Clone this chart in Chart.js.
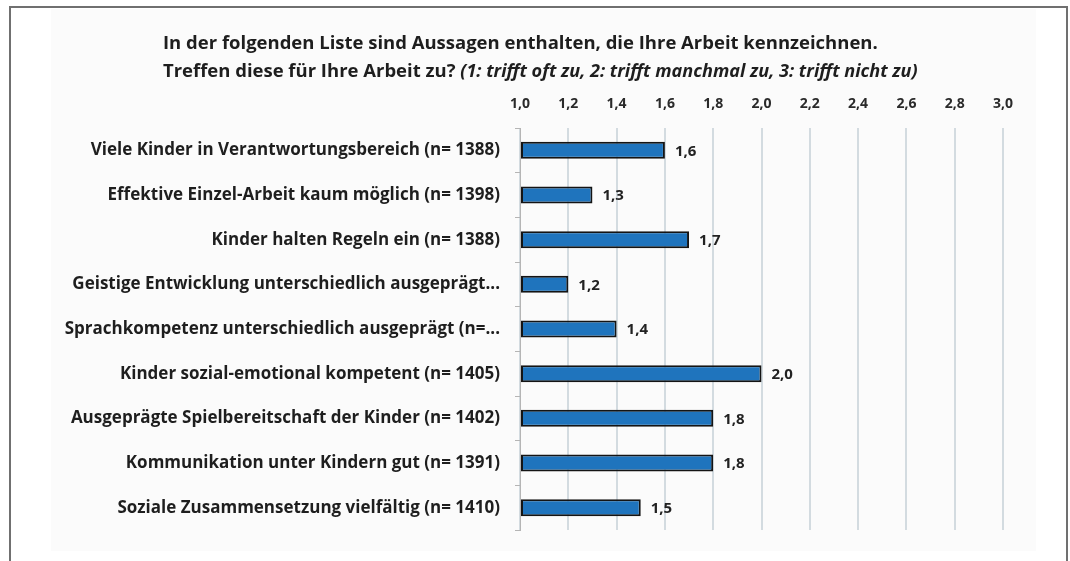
<!DOCTYPE html>
<html>
<head>
<meta charset="utf-8">
<script src="https://cdn.jsdelivr.net/npm/chart.js@4/dist/chart.umd.min.js"></script>
<style>
  html, body { margin: 0; padding: 0; background: #ffffff; }
  #wrap { position: relative; width: 1070px; height: 561px; }
</style>
</head>
<body>
<div id="wrap"><canvas id="c" width="1070" height="561"></canvas></div>
<script>
const categories = [
  "Viele Kinder in Verantwortungsbereich (n= 1388)",
  "Effektive Einzel-Arbeit kaum möglich (n= 1398)",
  "Kinder halten Regeln ein (n= 1388)",
  "Geistige Entwicklung unterschiedlich ausgeprägt...",
  "Sprachkompetenz unterschiedlich ausgeprägt (n=...",
  "Kinder sozial-emotional kompetent (n= 1405)",
  "Ausgeprägte Spielbereitschaft der Kinder (n= 1402)",
  "Kommunikation unter Kindern gut (n= 1391)",
  "Soziale Zusammensetzung vielfältig (n= 1410)"
];
const values = [1.6, 1.3, 1.7, 1.2, 1.4, 2.0, 1.8, 1.8, 1.5];
const valueLabels = ["1,6", "1,3", "1,7", "1,2", "1,4", "2,0", "1,8", "1,8", "1,5"];
const xTickLabels = ["1,0", "1,2", "1,4", "1,6", "1,8", "2,0", "2,2", "2,4", "2,6", "2,8", "3,0"];
const titleLine1 = "In der folgenden Liste sind Aussagen enthalten, die Ihre Arbeit kennzeichnen.";
const titleLine2a = "Treffen diese für Ihre Arbeit zu? ";
const titleLine2b = "(1: trifft oft zu, 2: trifft manchmal zu, 3: trifft nicht zu)";

const FONT = "'Open Sans', Lato, sans-serif";

function fitFont(ctx, text, style, target, start) {
  let size = start;
  for (let k = 0; k < 40; k++) {
    ctx.font = style + " " + size + "px " + FONT;
    const w = ctx.measureText(text).width;
    if (Math.abs(w - target) < 2) break;
    size = size * target / w;
  }
  return size;
}

const framePlugin = {
  id: 'frame',
  beforeDraw(chart) {
    const ctx = chart.ctx;
    ctx.save();
    ctx.fillStyle = '#ffffff';
    ctx.fillRect(0, 0, chart.width, chart.height);
    ctx.fillStyle = '#fbfbfb';
    ctx.fillRect(51, 9, 985, 542);
    ctx.strokeStyle = '#707070';
    ctx.lineWidth = 2;
    ctx.beginPath();
    ctx.moveTo(10, 561);
    ctx.lineTo(10, 7);
    ctx.lineTo(1067, 7);
    ctx.lineTo(1067, 561);
    ctx.stroke();
    ctx.restore();
  },
  afterDraw(chart) {
    const ctx = chart.ctx;
    ctx.save();
    ctx.fillStyle = '#1e1e1e';
    ctx.textBaseline = 'middle';
    ctx.textAlign = 'left';
    const s1 = fitFont(ctx, titleLine1, "bold", 715, 19);
    ctx.font = "bold " + s1 + "px " + FONT;
    ctx.fillText(titleLine1, 163, 44);
    ctx.fillText(titleLine2a, 163, 72);
    const w = ctx.measureText(titleLine2a).width;
    const s2 = fitFont(ctx, titleLine2b, "italic bold", 918 - 163 - w, 16);
    ctx.font = "italic bold " + s2 + "px " + FONT;
    ctx.fillText(titleLine2b, 163 + w, 72);
    // value labels
    const meta = chart.getDatasetMeta(0);
    ctx.font = "bold 15px " + FONT;
    ctx.fillStyle = '#222222';
    meta.data.forEach((bar, i) => {
      ctx.fillText(valueLabels[i], bar.x + 10, bar.y + 1);
    });
    ctx.restore();
  }
};

new Chart(document.getElementById('c'), {
  type: 'bar',
  data: {
    labels: categories,
    datasets: [{
      data: values,
      backgroundColor: '#1f74bd',
      borderColor: '#141414',
      borderWidth: 2,
      borderSkipped: false,
      barPercentage: 0.38,
      categoryPercentage: 1.0,
      base: 1
    }]
  },
  options: {
    indexAxis: 'y',
    responsive: false,
    animation: false,
    devicePixelRatio: 1,
    layout: { padding: { top: 80, bottom: 31, right: 67, left: 0 } },
    plugins: {
      legend: { display: false },
      tooltip: { enabled: false },
      title: { display: false }
    },
    scales: {
      x: {
        position: 'top',
        min: 1,
        max: 3,
        afterFit(scale) { scale.height = 48; },
        ticks: {
          stepSize: 0.2,
          padding: 16,
          color: '#2a2a2a',
          font: { family: FONT, size: 14, weight: 'bold' },
          callback: (v, i) => xTickLabels[i]
        },
        grid: {
          color: '#d3dbe0',
          lineWidth: 2,
          drawTicks: false
        },
        border: { display: false }
      },
      y: {
        afterFit(scale) { scale.width = 520; },
        ticks: {
          padding: 15,
          color: '#1e1e1e',
          font: { family: FONT, size: 17, weight: 'bold' }
        },
        grid: {
          drawOnChartArea: false,
          drawTicks: true,
          tickLength: 5,
          color: '#b5b5b5',
          lineWidth: 1
        },
        border: { display: true, color: '#b5b5b5', width: 1 }
      }
    }
  },
  plugins: [framePlugin]
});
</script>
</body>
</html>
